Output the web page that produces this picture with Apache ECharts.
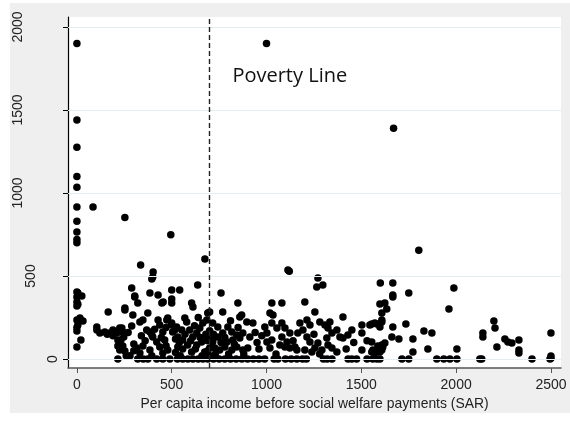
<!DOCTYPE html>
<html>
<head>
<meta charset="utf-8">
<script src="https://cdn.jsdelivr.net/npm/echarts@6/dist/echarts.min.js"></script>
<style>
  html, body { margin: 0; padding: 0; background: #ffffff; }
  #chart { width: 570px; height: 425px; }
</style>
</head>
<body>
<div id="chart"></div>
<script>
// Household income before welfare payments (SAR) vs. welfare received (SAR)
const povertyLine = 700;
const povertyLabel = 'Poverty Line';
const xTicks = [0, 500, 1000, 1500, 2000, 2500];
const yTicks = [0, 500, 1000, 1500, 2000];
const xTitle = 'Per capita income before social welfare payments (SAR)';

const highValues = [[0,1900],[1000,1900],[1670,1390],[0,1440],[0,1275],[0,1100],[0,1035],[0,915],[85,915],[253,852],[0,830],[0,765],[0,720],[0,700],[495,748],[1803,655],[675,602],
  [336,566],[402,524],[395,482],[1113,536],[1120,528],[1271,488],[1265,434],[1297,446],[1600,458],[1666,458],[1988,428],[289,428],[500,416],[542,416],[637,446]];

const zeroIncome = [[0,404],[5,398],[26,380],[0,374],[0,343],[5,330],[0,319],[16,247],[32,229],[0,235],[5,205],[0,169],[0,190],[21,114],[0,72]];

const income80to300 = [[105,193],[105,175],[121,157],[147,163],[174,157],[165,283],[190,175],[211,157],[237,187],[253,295],[216,114],[226,54],[216,0],[242,78],[253,48],[200,163],[226,187],[242,163],[232,114],[247,133],[216,78],[253,307],[190,140],[160,150],[270,160]];

const income300to500 = [[305,380],[305,374],[321,337],[295,265],[289,199],[332,223],[348,235],[316,66],[332,36],[321,0],[348,78],[385,54],[374,0],[374,277],[385,398],[400,494],[428,386],[448,337],[455,343],[437,205],[453,163],[474,235],[479,247],[500,217],[385,163],[400,133],[421,102],[437,72],[463,114],[453,36],[479,54],[421,0],[453,0],[490,0],[368,175],[395,145],[428,235],[505,163],[300,90],[340,140],[360,110],[410,180],[445,130],[470,190],[300,50],[350,0],[470,80],[395,20],[280,20],[260,20]];

const income500to700 = [[500,361],[500,337],[605,337],[612,313],[516,175],[532,133],[553,175],[558,114],[532,72],[569,247],[579,223],[558,60],[595,175],[611,133],[632,157],[648,187],[664,217],[685,235],[700,283],[584,84],[605,42],[632,84],[658,102],[674,42],[700,66],[690,50],[716,102],[558,0],[585,0],[612,0],[640,0],[665,0],[690,0],[526,193],[500,205],[540,100],[520,120],[620,200],[570,150],[650,130],[680,150],[690,110],[520,40],[545,20],[600,110],[625,60],[660,20],[640,250],[530,0],[700,20]];

const income700to1000 = [[760,398],[690,277],[716,217],[743,193],[769,283],[849,337],[869,265],[859,253],[896,223],[928,217],[796,193],[817,163],[843,145],[875,157],[912,133],[685,133],[716,114],[743,133],[769,157],[791,102],[822,114],[859,127],[727,66],[753,54],[780,72],[817,54],[843,72],[875,54],[901,66],[720,0],[750,0],[780,0],[810,0],[840,0],[870,0],[900,0],[930,0],[960,0],[990,0],[950,100],[960,60],[940,160],[975,140],[730,30],[800,30],[880,30],[760,100],[830,90],[700,170],[720,150],[780,130],[810,230],[850,190]];

const income1000to1500 = [[1028,337],[1081,337],[1018,277],[1034,265],[991,193],[1002,157],[1028,217],[1055,187],[1081,217],[1097,187],[1002,102],[1028,114],[1081,133],[1108,102],[1123,157],[1018,66],[1070,84],[1097,72],[1123,66],[1150,72],[1160,54],[1202,343],[1176,217],[1213,235],[1229,205],[1255,283],[1165,157],[1192,175],[1213,133],[1229,102],[1255,66],[1202,54],[1239,42],[1281,223],[1308,205],[1334,223],[1324,187],[1345,157],[1318,127],[1371,175],[1387,133],[1403,253],[1271,96],[1292,54],[1324,84],[1345,66],[1371,42],[1403,127],[1429,145],[1450,175],[1040,0],[1060,0],[1100,0],[1130,0],[1160,0],[1190,0],[1210,0],[1300,0],[1320,0],[1345,0],[1430,0],[1450,0],[1475,0],[1050,30],[1140,110],[1280,30],[1250,150],[1420,60],[1460,100]];

const income1500to1750 = [[1503,205],[1503,157],[1545,205],[1571,217],[1555,102],[1561,54],[1503,54],[1598,331],[1624,337],[1634,301],[1555,211],[1582,211],[1608,223],[1598,193],[1666,193],[1735,211],[1661,133],[1698,120],[1587,78],[1613,72],[1608,54],[1582,54],[1555,42],[1571,36],[1598,42],[1666,386],[1666,374],[1750,398],[1608,277],[1608,235],[1624,96],[1608,84],[1530,0],[1560,0],[1582,0],[1598,0],[1714,0],[1750,0],[1530,110]];

const income1750to2500 = [[1830,169],[1872,157],[1772,120],[1851,60],[1772,42],[1962,301],[2004,60],[2199,229],[2205,187],[2141,157],[2141,133],[2215,72],[2257,120],[2273,102],[2294,96],[2331,114],[2331,55],[2331,36],[2500,157],[2500,18],[2500,5],[1898,0],[1935,0],[1967,0],[2004,0],[2125,0],[2135,0],[2400,0],[2495,0]];

const households = [].concat(highValues, zeroIncome, income80to300, income300to500,
  income500to700, income700to1000, income1000to1500, income1500to1750, income1750to2500);

const tickFont = { fontFamily: 'Liberation Sans, Arial, sans-serif', fontSize: 14, color: '#222' };

const chart = echarts.init(document.getElementById('chart'), null, { renderer: 'canvas' });
chart.setOption({
  backgroundColor: '#ffffff',
  animation: false,
  graphic: [{
    type: 'rect', z: -10, silent: true,
    shape: { x: 10, y: 3, width: 560, height: 410 },
    style: { fill: '#efefef' }
  }],
  grid: {
    left: 68, top: 17, right: 9, bottom: 57,
    show: true, backgroundColor: '#ffffff', borderWidth: 0
  },
  xAxis: {
    type: 'value', min: -47, max: 2553,
    name: xTitle, nameLocation: 'middle', nameGap: 23,
    nameTextStyle: Object.assign({}, tickFont, { fontSize: 13.9, verticalAlign: 'top' }),
    axisLine: { show: true, onZero: false, lineStyle: { color: '#555', width: 1.5 } },
    axisTick: { show: true, customValues: xTicks, length: 5, lineStyle: { color: '#555', width: 1 } },
    axisLabel: Object.assign({
      customValues: xTicks, margin: 10,
      formatter: function (v) { return String(v); }
    }, tickFont),
    splitLine: { show: false }
  },
  yAxis: {
    type: 'value', min: -54, max: 2060,
    axisLine: { show: true, onZero: false, lineStyle: { color: '#000', width: 1.2 } },
    axisTick: { show: true, customValues: yTicks, length: 5, lineStyle: { color: '#000', width: 1 } },
    axisLabel: Object.assign({
      customValues: yTicks, rotate: 90, margin: 8,
      formatter: function (v) { return '{d' + String(v).length + '|' + v + '}'; },
      rich: {
        d1: Object.assign({ padding: [0, 0, 0, 0] }, tickFont),
        d3: Object.assign({ padding: [0, 0, 22, 0] }, tickFont),
        d4: Object.assign({ padding: [0, 0, 35, 0] }, tickFont)
      }
    }, tickFont),
    splitLine: { show: false }
  },
  series: [
    {
      // horizontal reference lines at each labelled tick
      type: 'scatter', data: [], z: 1, silent: true,
      markLine: {
        silent: true, symbol: 'none', animation: false,
        label: { show: false },
        lineStyle: { color: '#e2eef0', width: 1, type: 'solid' },
        data: yTicks.map(function (v) { return { yAxis: v }; })
      }
    },
    {
      type: 'scatter', z: 3,
      symbol: 'circle', symbolSize: 7.5,
      itemStyle: { color: '#000', opacity: 1 },
      data: households,
      markLine: {
        silent: true, symbol: 'none', animation: false,
        label: { show: false },
        lineStyle: { color: '#222', width: 1.4, type: [5, 3] },
        data: [{ xAxis: povertyLine }]
      },
      markPoint: {
        silent: true, symbol: 'circle', symbolSize: 0, animation: false,
        label: {
          show: true, position: 'right', distance: 0,
          formatter: povertyLabel,
          fontFamily: 'Open Sans, Noto Sans, sans-serif', fontSize: 20, color: '#111'
        },
        data: [{ coord: [820, 1700] }]
      }
    }
  ]
});
</script>
</body>
</html>
